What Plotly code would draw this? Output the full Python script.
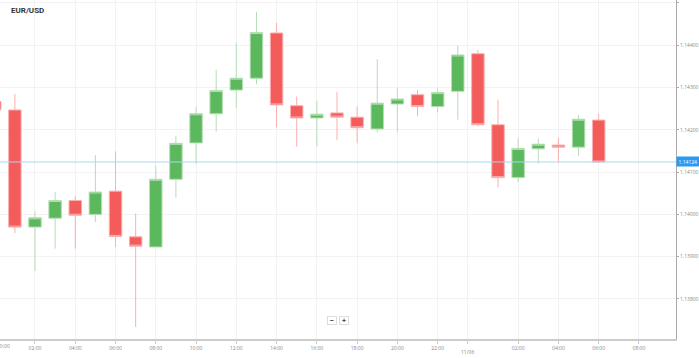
import plotly.graph_objects as go
import pandas as pd

times = pd.date_range("2018-11-05 00:00", "2018-11-06 06:00", freq="h")
opens = [1.14267, 1.14247, 1.13970, 1.13991, 1.14033, 1.14000, 1.14055, 1.13947, 1.13923, 1.14083,
         1.14169, 1.14238, 1.14294, 1.14322, 1.14429, 1.14257, 1.14228, 1.14240, 1.14230, 1.14202,
         1.14261, 1.14283, 1.14255, 1.14291, 1.14380, 1.14212, 1.14087, 1.14155, 1.14164, 1.14159,
         1.14223]
highs = [1.14275, 1.14285, 1.14007, 1.14053, 1.14043, 1.14140, 1.14149, 1.14002, 1.14116, 1.14186,
         1.14255, 1.14342, 1.14406, 1.14479, 1.14453, 1.14279, 1.14269, 1.14290, 1.14255, 1.14367,
         1.14299, 1.14294, 1.14297, 1.14399, 1.14389, 1.14271, 1.14180, 1.14179, 1.14181, 1.14234,
         1.14238]
lows = [1.14240, 1.13956, 1.13866, 1.13919, 1.13919, 1.13982, 1.13923, 1.13734, 1.13922, 1.14039,
        1.14120, 1.14196, 1.14252, 1.14308, 1.14206, 1.14160, 1.14160, 1.14176, 1.14168, 1.14194,
        1.14194, 1.14232, 1.14241, 1.14224, 1.14208, 1.14064, 1.14076, 1.14120, 1.14123, 1.14139,
        1.14122]
closes = [1.14247, 1.13970, 1.13992, 1.14033, 1.13998, 1.14053, 1.13948, 1.13925, 1.14083, 1.14168,
          1.14238, 1.14293, 1.14322, 1.14430, 1.14259, 1.14228, 1.14237, 1.14230, 1.14205, 1.14263,
          1.14273, 1.14255, 1.14288, 1.14377, 1.14212, 1.14087, 1.14156, 1.14166, 1.14159, 1.14225,
          1.14124]

tick_hours = ["2018-11-05 02:00", "2018-11-05 04:00", "2018-11-05 06:00", "2018-11-05 08:00",
              "2018-11-05 10:00", "2018-11-05 12:00", "2018-11-05 14:00", "2018-11-05 16:00",
              "2018-11-05 18:00", "2018-11-05 20:00", "2018-11-05 22:00", "2018-11-05 23:30",
              "2018-11-06 02:00", "2018-11-06 04:00", "2018-11-06 06:00", "2018-11-06 08:00"]
tick_text = ["02:00", "04:00", "06:00", "08:00", "10:00", "12:00", "14:00", "16:00",
             "18:00", "20:00", "22:00", "", "02:00", "04:00", "06:00", "08:00"]
day_label = "11/06"
symbol = "EUR/USD"
last_price = closes[-1]

W, H = 699, 358
L, R, T, B = 0, 23, 0, 19
PW, PH = W - L - R, H - T - B

GREEN = "#5cb85c"
RED = "#f45b5b"

fig = go.Figure()
fig.add_trace(go.Candlestick(
    x=times, open=opens, high=highs, low=lows, close=closes,
    increasing=dict(fillcolor=GREEN, line=dict(color="#b5deb5", width=1)),
    decreasing=dict(fillcolor=RED, line=dict(color="#f9b0b0", width=1)),
    whiskerwidth=0, hoverinfo="skip", showlegend=False,
))

fig.add_shape(type="line", xref="paper", x0=0, x1=1, yref="y", y0=last_price, y1=last_price,
              line=dict(color="#aad6f2", width=1), layer="above")

fig.add_annotation(xref="paper", yref="y", x=1.0, y=last_price, xanchor="left", yanchor="middle",
                   text=f"{last_price:.5f}", showarrow=False, bgcolor="#2a9bf0",
                   font=dict(color="white", size=5, family="Open Sans"), borderpad=1.5, xshift=0)

fig.add_annotation(xref="paper", yref="paper", x=8.5 / PW, y=1 - 10.5 / PH, xanchor="left",
                   yanchor="middle", text=f"<b>{symbol}</b>", showarrow=False,
                   font=dict(color="#333333", size=8, family="Roboto"))

fig.add_annotation(xref="x", yref="paper", x="2018-11-05 23:30", y=1 - 352 / PH, yanchor="middle",
                   text=day_label, showarrow=False, font=dict(color="#888888", size=5, family="Open Sans"))
fig.add_annotation(xref="paper", yref="paper", x=-5.3 / PW, y=1 - 346 / PH, yanchor="middle",
                   text="00:00", showarrow=False, font=dict(color="#888888", size=5, family="Open Sans"))

for txt, cx in [("\u2212", 332), ("+", 344)]:
    fig.add_annotation(xref="paper", yref="paper", x=cx / PW, y=1 - 320 / PH, xanchor="center",
                       yanchor="middle", text=f"<b>{txt}</b>", showarrow=False, width=8, height=7,
                       bgcolor="white", bordercolor="#dddddd", borderwidth=1, borderpad=0,
                       font=dict(color="#333333", size=7, family="Open Sans"))

fig.update_layout(
    width=W, height=H, margin=dict(l=L, r=R, t=T, b=B),
    paper_bgcolor="white", plot_bgcolor="white",
    boxgap=0.38, boxgroupgap=0,
    xaxis=dict(
        type="date", range=["2018-11-05 00:15:43", "2018-11-06 09:50:24"],
        rangeslider=dict(visible=False),
        tickmode="array", tickvals=tick_hours, ticktext=tick_text,
        showgrid=True, gridcolor="#f2f2f2", gridwidth=1,
        showline=True, linecolor="#cccccc", linewidth=2,
        ticks="outside", ticklen=3, tickcolor="#cccccc",
        tickfont=dict(color="#888888", size=5, family="Open Sans"),
        zeroline=False, fixedrange=True,
    ),
    yaxis=dict(
        side="right", range=[1.137054, 1.145070], dtick=0.001, tick0=1.138,
        tickformat=".5f",
        showgrid=True, gridcolor="#f2f2f2", gridwidth=1,
        showline=True, linecolor="#aaaaaa", linewidth=1,
        ticks="outside", ticklen=2, tickcolor="#aaaaaa",
        tickfont=dict(color="#888888", size=5, family="Open Sans"),
        zeroline=False, fixedrange=True,
    ),
)

fig.write_html("out.html", config={"displayModeBar": False},
               post_script="document.body.style.margin='0px';document.body.style.padding='0px';")
